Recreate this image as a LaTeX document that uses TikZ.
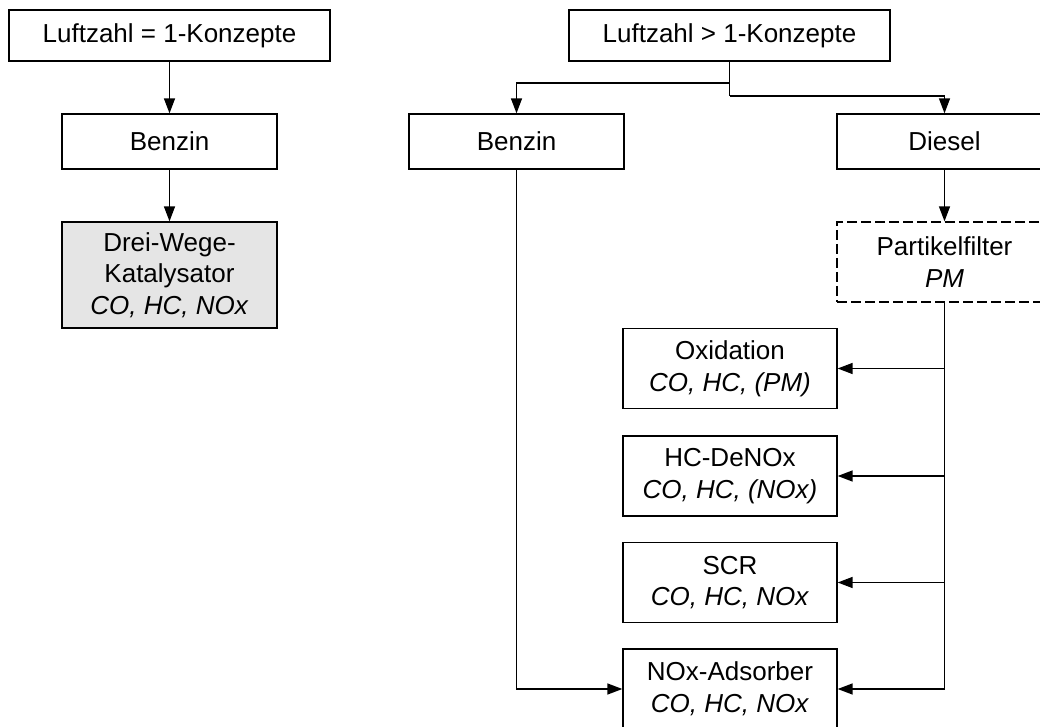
\documentclass[tikz,border=0pt]{standalone}
\usepackage{fontspec}
\setmainfont{Liberation Sans}
\usetikzlibrary{arrows.meta}
\begin{document}
\begin{tikzpicture}[x=0.5pt,y=-0.5pt,
  box/.style={draw=black, line width=0.65pt, fill=white, minimum width=107.5pt,
    inner sep=0pt, align=center, font=\fontsize{13}{15.8}\selectfont},
  wide/.style={minimum width=160.5pt, minimum height=25.5pt},
  one/.style={minimum height=27.5pt},
  two/.style={minimum width=107pt, minimum height=40pt},
  filterbox/.style={dash pattern=on 5pt off 2pt},
  arr/.style={line width=0.7pt, -{Triangle[length=7.5pt,width=5.5pt]}},
  ln/.style={line width=0.7pt}]
\useasboundingbox (0,0) rectangle (1040,727);

\node[box, wide] (l1) at (169.5,35.5) {Luftzahl = 1-Konzepte};
\node[box, one] (b1) at (169.5,141.5) {Benzin};
\node[box, fill=black!10, minimum height=53pt] (dw) at (169.5,275)
  {Drei-Wege-\\Katalysator\\\textit{CO, HC, NOx}};

\node[box, wide] (l2) at (729.5,35.5) {Luftzahl > 1-Konzepte};
\node[box, one] (b2) at (516.5,141.5) {Benzin};
\node[box, one] (d) at (944.5,141.5) {Diesel};
\node[box, filterbox, minimum height=40pt] (pf) at (944.5,262) {Partikelfilter\\\textit{PM}};

\node[box, two] (ox) at (730,368.5) {Oxidation\\\textit{CO, HC, (PM)}};
\node[box, two] (hc) at (730,476) {HC-DeNOx\\\textit{CO, HC, (NOx)}};
\node[box, two] (scr) at (730,582.5) {SCR\\\textit{CO, HC, NOx}};
\node[box, two] (nox) at (730,689) {NOx-Adsorber\\\textit{CO, HC, NOx}};

\coordinate (splitl) at (729.5,83);
\coordinate (splitr) at (729.5,96);

\draw[arr] (l1.south) -- (b1.north);
\draw[arr] (b1.south) -- (dw.north);

\draw[ln] (l2.south) -- (splitr);
\draw[arr] (splitl) -| (b2.north);
\draw[arr] (splitr) -| (d.north);
\draw[arr] (d.south) -- (pf.north);

\draw[arr] (pf.south) |- (nox.east);
\draw[arr] (pf.south |- ox.east) -- (ox.east);
\draw[arr] (pf.south |- hc.east) -- (hc.east);
\draw[arr] (pf.south |- scr.east) -- (scr.east);

\draw[arr] (b2.south) |- (nox.west);
\end{tikzpicture}
\end{document}
